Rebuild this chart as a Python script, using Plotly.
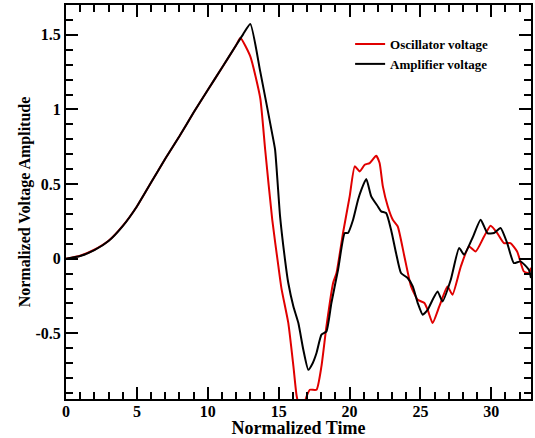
import plotly.graph_objects as go

# Oscillator voltage (red)
osc_t = [0, 1, 2, 3, 4, 5, 6, 7, 8, 9, 10, 11, 12, 12.3, 13.0, 13.7, 14.05, 14.55,
         14.98, 15.2, 15.68, 16.04, 16.27, 16.5, 16.8, 16.97, 17.2, 17.67, 18.02, 18.37,
         18.84, 19.08, 19.54, 20.01, 20.37, 20.72, 21.07, 21.42, 21.88, 22.12, 22.35,
         22.7, 23.05, 23.4, 23.87, 24.34, 24.81, 25.28, 25.51, 25.86, 26.33, 26.91,
         27.26, 27.85, 28.43, 28.9, 29.49, 29.95, 30.42, 30.89, 31.35, 31.82, 32.29,
         32.65, 32.8]
osc_v = [0, 0.02, 0.06, 0.12, 0.22, 0.35, 0.51, 0.67, 0.82, 0.98, 1.13, 1.28, 1.43, 1.479,
         1.356, 1.077, 0.73, 0.26, -0.05, -0.2, -0.43, -0.72, -0.92, -1.0, -0.97, -0.923,
         -0.878, -0.878, -0.72, -0.454, -0.163, -0.096, 0.172, 0.418, 0.619, 0.585, 0.63,
         0.641, 0.69, 0.641, 0.485, 0.35, 0.261, 0.216, 0.015, -0.186, -0.275, -0.297,
         -0.342, -0.431, -0.32, -0.186, -0.241, -0.052, 0.082, 0.049, 0.149, 0.221,
         0.172, 0.105, 0.105, 0.049, -0.085, -0.096, -0.06]

# Amplifier voltage (black)
amp_t = [0, 1, 2, 3, 4, 5, 6, 7, 8, 9, 10, 11, 12, 12.5, 13.0, 13.7, 14.58, 14.75,
         15.1, 15.45, 15.68, 16.04, 16.39, 16.74, 17.09, 17.4, 17.67, 18.02, 18.37,
         18.72, 19.19, 19.66, 19.89, 20.25, 20.6, 20.83, 21.18, 21.53, 22.0, 22.23,
         22.58, 22.93, 23.28, 23.63, 24.1, 24.46, 24.81, 25.16, 25.51, 25.86, 26.21,
         26.56, 27.14, 27.73, 28.08, 28.67, 29.25, 29.72, 30.19, 30.65, 31.12, 31.59,
         32.06, 32.65, 32.8]
amp_v = [0, 0.018, 0.057, 0.118, 0.218, 0.35, 0.51, 0.67, 0.82, 0.98, 1.13, 1.28, 1.43,
         1.505, 1.573, 1.255, 0.82, 0.73, 0.284, -0.007, -0.163, -0.32, -0.431, -0.61,
         -0.744, -0.7, -0.632, -0.509, -0.487, -0.297, -0.074, 0.172, 0.172, 0.261,
         0.395, 0.462, 0.534, 0.418, 0.35, 0.317, 0.306, 0.194, 0.038, -0.096, -0.129,
         -0.186, -0.297, -0.375, -0.342, -0.275, -0.219, -0.286, -0.141, 0.072, 0.027,
         0.139, 0.261, 0.172, 0.172, 0.206, 0.105, -0.029, -0.018, -0.074, -0.13]

x_range = [0, 32.8]
y_range = [-0.94, 1.70]
x_major, x_minor = 5, 1
y_major, y_minor = 0.5, 0.1
# tick label shown in the reference for the negative tick (ASCII hyphen)
y_label_alias = {"\u22120.5": "-0.5"}

FONT = "Liberation Serif"

fig = go.Figure()
fig.add_trace(go.Scatter(x=osc_t, y=osc_v, mode="lines", name="Oscillator voltage",
                         line=dict(color="#e00000", width=2, shape="spline", smoothing=0.5)))
fig.add_trace(go.Scatter(x=amp_t, y=amp_v, mode="lines", name="Amplifier voltage",
                         line=dict(color="#000000", width=2, shape="spline", smoothing=0.5)))

main_axis = dict(
    showline=True, linecolor="black", linewidth=2, mirror="ticks",
    ticks="inside", ticklen=12, tickwidth=2, tickcolor="black",
    showgrid=False, zeroline=False,
    tickfont=dict(family=FONT, size=16, color="black", weight="bold"),
)

fig.update_layout(
    xaxis=dict(range=x_range, tickmode="linear", tick0=0, dtick=x_major,
               ticklabelstandoff=-3,
               minor=dict(ticks="inside", ticklen=7, tickwidth=1.5, tickcolor="black",
                          dtick=x_minor, tick0=0, showgrid=False),
               title=dict(text="Normalized Time", standoff=2,
                          font=dict(family=FONT, size=18, color="black", weight="bold")),
               **main_axis),
    yaxis=dict(range=y_range, tickmode="linear", tick0=0, dtick=y_major,
               labelalias=y_label_alias,
               minor=dict(ticks="inside", ticklen=7, tickwidth=1.5, tickcolor="black",
                          dtick=y_minor, tick0=0, showgrid=False),
               title=dict(text="Normalized Voltage Amplitude", standoff=1,
                          font=dict(family=FONT, size=16, color="black", weight="bold")),
               **main_axis),
    width=535, height=438,
    margin=dict(l=66, r=2, t=5, b=39),
    paper_bgcolor="white", plot_bgcolor="white",
    showlegend=True,
    legend=dict(x=0.611, y=0.939, xanchor="left", yanchor="top",
                bgcolor="rgba(0,0,0,0)", borderwidth=0,
                font=dict(family=FONT, size=13, color="black", weight="bold"),
                tracegroupgap=0, itemwidth=30),
)

fig.write_html("out.html")
